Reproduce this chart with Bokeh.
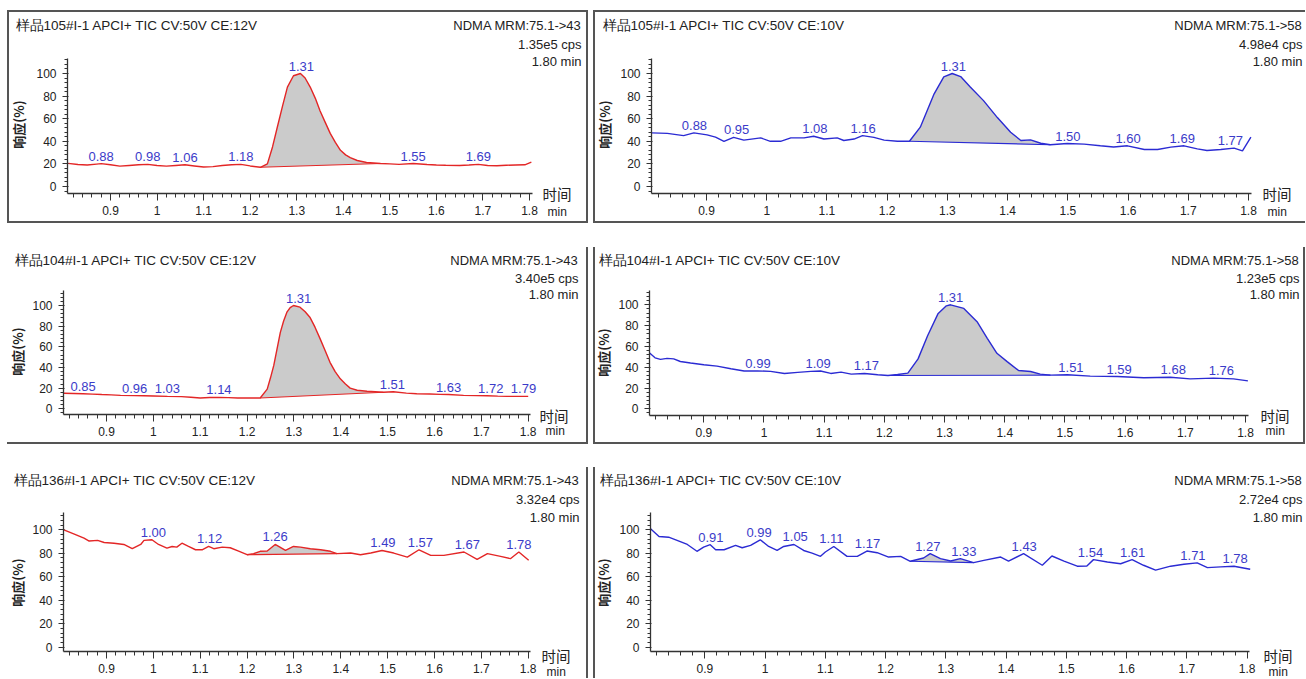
import numpy as np
from bokeh.plotting import figure
from bokeh.layouts import row, column
from bokeh.models import (Label, LabelSet, ColumnDataSource, SingleIntervalTicker,
                          PrintfTickFormatter, Range1d, Spacer)
from bokeh.core.properties import value
from bokeh.embed import file_html
from bokeh.resources import INLINE

FONT = "Liberation Sans"
CJK = "Noto Sans CJK SC"
RED = "#e32626"
BLUE = "#2b2bd3"
LABEL_BLUE = "#3b3bc9"
TEXT = "#222222"
FILL = "#cbcbcb"
EDGE = "#555555"

# ------------------------------------------------------------------ data
x_ticks_step = 0.1
y_ticks_step = 20

# panel A : 105, CE 12V, m/z 75.1->43
a_x = [0.809, 0.83, 0.85, 0.87, 0.88, 0.90, 0.92, 0.94, 0.96, 0.98, 1.00, 1.02, 1.04,
       1.06, 1.08, 1.10, 1.12, 1.14, 1.16, 1.18, 1.20, 1.222, 1.237, 1.248, 1.258,
       1.27, 1.28, 1.293, 1.308, 1.318, 1.329, 1.34, 1.35, 1.361, 1.372, 1.383, 1.394,
       1.405, 1.415, 1.43, 1.45, 1.48, 1.50, 1.52, 1.55, 1.58, 1.60, 1.62, 1.65, 1.67,
       1.69, 1.71, 1.73, 1.75, 1.77, 1.79, 1.804]
a_y = [20.5, 19.5, 19.0, 19.8, 20.2, 19.2, 18.0, 18.6, 19.2, 19.6, 18.6, 18.0, 18.6,
       19.2, 18.2, 17.2, 17.6, 18.6, 19.2, 19.6, 18.2, 17.0, 20.0, 35.0, 52.0,
       72.0, 88.0, 98.0, 100.0, 96.0, 88.0, 78.0, 67.0, 57.0, 47.0, 39.0, 32.0,
       28.0, 25.6, 23.0, 21.2, 20.3, 20.0, 19.6, 20.3, 19.5, 19.0, 18.8, 18.6, 19.0,
       19.6, 18.6, 18.4, 18.8, 19.0, 19.2, 21.5]
a_peak = [1.222, 1.48]
a_lab_x = [0.88, 0.98, 1.06, 1.18, 1.31, 1.55, 1.69]
a_lab_y = [20.2, 19.6, 19.2, 19.6, 100.0, 20.3, 19.6]

# panel B : 105, CE 10V, m/z 75.1->58
b_x = [0.809, 0.835, 0.862, 0.879, 0.901, 0.915, 0.929, 0.945, 0.962, 0.99, 1.006,
       1.023, 1.04, 1.062, 1.078, 1.095, 1.117, 1.128, 1.145, 1.159, 1.178, 1.195,
       1.217, 1.237, 1.255, 1.267, 1.278, 1.294, 1.308, 1.322, 1.338, 1.36, 1.383,
       1.405, 1.422, 1.438, 1.455, 1.471, 1.499, 1.527, 1.554, 1.576, 1.599, 1.627,
       1.649, 1.671, 1.693, 1.715, 1.731, 1.754, 1.776, 1.79, 1.804]
b_y = [47.5, 47.0, 45.0, 47.5, 45.7, 43.7, 40.0, 43.5, 41.0, 43.0, 40.0,
       40.0, 43.0, 43.0, 44.5, 42.0, 43.0, 40.7, 42.0, 45.0, 43.5, 41.0,
       40.0, 40.0, 52.5, 68.0, 82.0, 97.0, 100.0, 97.3, 88.0, 76.0, 61.0,
       48.0, 40.7, 41.3, 38.3, 37.0, 38.0, 37.5, 36.0, 35.0, 36.0, 32.7,
       32.7, 34.8, 36.0, 33.3, 31.9, 32.7, 34.0, 31.5, 43.6]
b_peak = [1.237, 1.471]
b_lab_x = [0.88, 0.95, 1.08, 1.16, 1.31, 1.50, 1.60, 1.69, 1.77]
b_lab_y = [47.5, 43.5, 44.5, 45.0, 100.0, 38.0, 36.0, 36.0, 34.0]

# panel C : 104, CE 12V, m/z 75.1->43
c_x = [0.809, 0.83, 0.85, 0.87, 0.89, 0.91, 0.93, 0.96, 0.98, 1.00, 1.03, 1.06, 1.08,
       1.10, 1.12, 1.14, 1.16, 1.18, 1.20, 1.228, 1.243, 1.25, 1.257, 1.264, 1.271,
       1.278, 1.285, 1.292, 1.299, 1.313, 1.324, 1.334, 1.345, 1.356, 1.367, 1.377,
       1.388, 1.399, 1.41, 1.42, 1.435, 1.456, 1.491, 1.512, 1.54, 1.562, 1.59, 1.612,
       1.63, 1.662, 1.69, 1.712, 1.735, 1.755, 1.78, 1.80]
c_y = [15.0, 14.8, 14.5, 14.2, 13.8, 13.5, 13.0, 12.8, 12.6, 12.4, 12.0, 11.8, 11.2,
       10.5, 11.0, 11.0, 10.8, 10.5, 10.5, 10.5, 19.0, 30.0, 42.0, 58.0, 74.0,
       85.0, 93.5, 98.0, 100.0, 98.4, 94.0, 88.7, 79.0, 67.7, 56.0, 45.0,
       36.0, 29.0, 24.0, 20.0, 18.0, 17.0, 16.0, 16.5, 15.2, 14.5, 14.3, 14.0,
       13.8, 13.0, 12.8, 12.7, 12.3, 12.0, 12.0, 12.0]
c_peak = [1.228, 1.491]
c_lab_x = [0.85, 0.96, 1.03, 1.14, 1.31, 1.51, 1.63, 1.72, 1.79]
c_lab_y = [14.5, 12.8, 12.0, 11.0, 100.0, 16.5, 13.8, 12.7, 12.0]

# panel D : 104, CE 10V, m/z 75.1->58
d_x = [0.81, 0.819, 0.828, 0.839, 0.85, 0.861, 0.878, 0.90, 0.922, 0.945, 0.967,
       0.989, 1.011, 1.034, 1.056, 1.078, 1.094, 1.111, 1.128, 1.145, 1.167, 1.189,
       1.206, 1.222, 1.239, 1.256, 1.272, 1.289, 1.303, 1.31, 1.332, 1.354, 1.371,
       1.387, 1.404, 1.423, 1.443, 1.459, 1.476, 1.504, 1.542, 1.587, 1.631, 1.675,
       1.708, 1.747, 1.78, 1.804]
d_y = [53.6, 49.0, 47.5, 48.5, 48.0, 45.5, 44.0, 42.3, 41.0, 38.5, 36.3,
       36.5, 36.0, 34.0, 35.0, 36.0, 36.3, 34.0, 35.3, 33.3, 34.0, 32.7,
       32.0, 33.0, 34.3, 48.0, 70.5, 91.3, 99.0, 100.0, 96.5, 83.8, 67.8,
       53.4, 45.4, 36.8, 35.9, 33.3, 32.4, 32.7, 31.4, 31.0, 29.8, 30.4,
       28.8, 29.5, 28.8, 26.9]
d_peak = [1.206, 1.476]
d_lab_x = [0.99, 1.09, 1.17, 1.31, 1.51, 1.59, 1.68, 1.76]
d_lab_y = [36.5, 36.3, 34.0, 100.0, 32.7, 31.0, 30.4, 29.5]

# panel E : 136, CE 12V, m/z 75.1->43
e_x = [0.809, 0.83, 0.852, 0.863, 0.881, 0.895, 0.916, 0.937, 0.955, 0.973, 0.98,
       0.997, 1.011, 1.029, 1.04, 1.05, 1.061, 1.075, 1.09, 1.104, 1.118, 1.129,
       1.147, 1.164, 1.182, 1.20, 1.214, 1.228, 1.243, 1.26, 1.282, 1.299, 1.314,
       1.335, 1.357, 1.378, 1.392, 1.421, 1.442, 1.464, 1.488, 1.513, 1.542, 1.567,
       1.592, 1.62, 1.663, 1.691, 1.713, 1.741, 1.762, 1.78, 1.801]
e_y = [100.0, 96.6, 92.9, 90.4, 91.0, 89.2, 88.6, 87.5, 83.9, 87.5, 91.0,
       91.5, 87.5, 84.4, 85.8, 85.2, 88.6, 85.8, 83.0, 83.0, 85.8, 83.9,
       85.2, 84.7, 81.9, 78.8, 79.7, 81.7, 81.9, 87.5, 82.4, 85.8, 85.2,
       83.9, 83.0, 81.7, 79.7, 80.2, 78.8, 80.2, 82.4, 80.2, 76.7, 83.0,
       78.2, 78.2, 81.1, 74.8, 79.7, 77.4, 75.4, 81.1, 74.0]
e_peak = [1.20, 1.392]
e_lab_x = [1.00, 1.12, 1.26, 1.49, 1.57, 1.67, 1.78]
e_lab_y = [91.5, 85.8, 87.5, 82.4, 83.0, 81.1, 81.1]

# panel F : 136, CE 10V, m/z 75.1->58
f_x = [0.81, 0.824, 0.84, 0.854, 0.871, 0.887, 0.898, 0.909, 0.918, 0.932, 0.951,
       0.962, 0.976, 0.992, 1.006, 1.02, 1.031, 1.048, 1.064, 1.078, 1.092, 1.10,
       1.114, 1.136, 1.153, 1.169, 1.186, 1.205, 1.225, 1.241, 1.263, 1.274, 1.291,
       1.308, 1.324, 1.346, 1.363, 1.391, 1.404, 1.429, 1.46, 1.476, 1.496, 1.518,
       1.534, 1.545, 1.568, 1.59, 1.609, 1.628, 1.648, 1.673, 1.695, 1.717, 1.734,
       1.756, 1.778, 1.805]
f_y = [100.9, 94.3, 93.7, 91.0, 87.5, 81.7, 85.2, 87.3, 83.0, 83.0, 86.7,
       84.7, 86.7, 91.5, 85.8, 82.4, 85.8, 87.5, 82.4, 80.2, 77.4, 81.1,
       85.8, 77.4, 77.4, 81.9, 80.5, 76.8, 77.4, 73.2, 76.0, 79.7, 75.4,
       73.4, 75.4, 72.0, 74.0, 76.8, 73.4, 79.7, 69.8, 77.7, 73.4, 69.0,
       69.2, 74.6, 72.6, 71.1, 74.6, 69.8, 65.6, 69.0, 70.6, 71.8, 67.8,
       68.4, 69.0, 66.4]
f_peak = [1.241, 1.346]
f_lab_x = [0.91, 0.99, 1.05, 1.11, 1.17, 1.27, 1.33, 1.43, 1.54, 1.61, 1.71, 1.78]
f_lab_y = [87.3, 91.5, 87.5, 85.8, 81.9, 79.7, 75.4, 79.7, 74.6, 74.6, 71.8, 69.0]

titles = ["样品105#I-1 APCI+ TIC CV:50V CE:12V", "样品105#I-1 APCI+ TIC CV:50V CE:10V",
          "样品104#I-1 APCI+ TIC CV:50V CE:12V", "样品104#I-1 APCI+ TIC CV:50V CE:10V",
          "样品136#I-1 APCI+ TIC CV:50V CE:12V", "样品136#I-1 APCI+ TIC CV:50V CE:10V"]
transitions = ["NDMA MRM:75.1->43", "NDMA MRM:75.1->58"] * 3
intensities = ["1.35e5 cps", "4.98e4 cps", "3.40e5 cps", "1.23e5 cps", "3.32e4 cps", "2.72e4 cps"]
time_text = "1.80 min"
x_label = "时间"
x_unit = "min"
y_label = "响应(%)"

traces = [(a_x, a_y, a_peak, a_lab_x, a_lab_y), (b_x, b_y, b_peak, b_lab_x, b_lab_y),
          (c_x, c_y, c_peak, c_lab_x, c_lab_y), (d_x, d_y, d_peak, d_lab_x, d_lab_y),
          (e_x, e_y, e_peak, e_lab_x, e_lab_y), (f_x, f_y, f_peak, f_lab_x, f_lab_y)]

# ------------------------------------------------------------------ layout (page pixels)
COL_X = [(7, 588), (593, 1305)]
ROW_Y = [(10, 223), (247, 444), (467, 678)]
CAL = [
    dict(x09=110.0, x18=529.0, y100=73.0, y0=186.0, yax=67.0, xax=193.0, top=58.0),
    dict(x09=706.0, x18=1248.0, y100=73.0, y0=186.0, yax=651.0, xax=193.0, top=58.0),
    dict(x09=106.0, x18=527.7, y100=305.0, y0=408.3, yax=63.0, xax=414.0, top=290.0),
    dict(x09=703.3, x18=1245.0, y100=304.3, y0=408.3, yax=649.0, xax=415.0, top=290.0),
    dict(x09=106.0, x18=527.7, y100=529.3, y0=646.7, yax=63.0, xax=651.0, top=512.0),
    dict(x09=704.3, x18=1246.7, y100=529.3, y0=646.7, yax=650.0, xax=651.0, top=512.0),
]
TXT = [
    dict(tl=15, tcy=25, rr=581, rcy=[25, 43.5, 61], hl=542, hcy=193, ml=547, mcy=211, yl=(18, 124)),
    dict(tl=602, tcy=25, rr=1302, rcy=[25, 44, 61], hl=1262, hcy=193, ml=1267, mcy=211, yl=(604, 124)),
    dict(tl=14, tcy=260, rr=578, rcy=[260, 278, 294], hl=539, hcy=415, ml=545, mcy=430, yl=(17, 351)),
    dict(tl=598, tcy=260, rr=1299, rcy=[260, 278, 294], hl=1260, hcy=415, ml=1265, mcy=430, yl=(603, 352)),
    dict(tl=13, tcy=480, rr=579, rcy=[480, 499, 517], hl=541, hcy=655, ml=546, mcy=671, yl=(17, 582)),
    dict(tl=599, tcy=480, rr=1302, rcy=[480, 499, 517], hl=1263, hcy=655, ml=1268, mcy=671, yl=(603, 582)),
]

B = "2px"
SHADOWS = [
    [f"inset 0 {B} 0 {EDGE}", f"inset {B} 0 0 {EDGE}", f"inset 0 -{B} 0 {EDGE}", f"inset -{B} 0 0 {EDGE}"],
    [f"inset 0 {B} 0 {EDGE}", f"inset {B} 0 0 {EDGE}", f"inset 0 -{B} 0 {EDGE}"],
    [f"inset 0 -{B} 0 {EDGE}", f"inset -{B} 0 0 {EDGE}"],
    [f"inset {B} 0 0 {EDGE}", f"inset 0 -{B} 0 {EDGE}", f"inset -{B} 0 0 {EDGE}"],
    [f"inset -{B} 0 0 {EDGE}"],
    [f"inset {B} 0 0 {EDGE}"],
]


def make_panel(i):
    r, c = divmod(i, 2)
    xs, ys, peak, lab_x, lab_y = traces[i]
    color = RED if c == 0 else BLUE
    g = CAL[i]
    t = TXT[i]
    fx0, fx1 = COL_X[c]
    fy0, fy1 = ROW_Y[r]

    def xv(px):
        return 0.9 + (px - g["x09"]) * 0.9 / (g["x18"] - g["x09"])

    def yv(py):
        return (g["y0"] - py) * 100.0 / (g["y0"] - g["y100"])

    p = figure(width=fx1 - fx0, height=fy1 - fy0,
               x_range=Range1d(xv(fx0), xv(fx1)), y_range=Range1d(yv(fy1), yv(fy0)),
               output_backend="svg", toolbar_location=None,
               min_border=0, min_border_left=0, min_border_right=0,
               min_border_top=0, min_border_bottom=0,
               background_fill_color=None, border_fill_color=None,
               outline_line_color=None,
               styles={"box-shadow": ", ".join(SHADOWS[i])})
    p.xgrid.visible = False
    p.ygrid.visible = False

    x_lo = xv(g["yax"])
    x_hi = xv(g["x18"] + 2.5)
    y_lo = yv(g["xax"])
    y_hi = yv(g["top"])
    p.xaxis.fixed_location = y_lo
    p.xaxis.bounds = (x_lo, x_hi)
    p.yaxis.fixed_location = x_lo
    p.yaxis.bounds = (y_lo, y_hi)
    p.xaxis.ticker = SingleIntervalTicker(interval=x_ticks_step, num_minor_ticks=5)
    p.xaxis.formatter = PrintfTickFormatter(format="%.3g")
    p.yaxis.ticker = SingleIntervalTicker(interval=y_ticks_step, num_minor_ticks=5)
    for ax in (p.xaxis, p.yaxis):
        ax.axis_line_color = "#333333"
        ax.axis_line_width = 1.3
        ax.major_tick_line_color = "#333333"
        ax.minor_tick_line_color = "#333333"
        ax.major_label_text_font = FONT
        ax.major_label_text_font_size = "12px"
        ax.major_label_text_color = TEXT
    p.xaxis.major_tick_out = 7
    p.xaxis.major_tick_in = 0
    p.xaxis.minor_tick_out = 4
    p.xaxis.minor_tick_in = 0
    p.xaxis.major_label_standoff = 5
    p.yaxis.major_tick_out = 5
    p.yaxis.major_tick_in = 1
    p.yaxis.minor_tick_out = 3
    p.yaxis.minor_tick_in = 0
    p.yaxis.major_label_standoff = 6

    xa = np.array(xs)
    ya = np.array(ys)
    m = (xa >= peak[0] - 1e-9) & (xa <= peak[1] + 1e-9)
    px = list(xa[m])
    py = list(ya[m])
    p.patch(px, py, fill_color=FILL, line_color=None)
    p.line([px[0], px[-1]], [py[0], py[-1]], line_color=color, line_width=1.1)
    p.line(xs, ys, line_color=color, line_width=1.4)

    src = ColumnDataSource(dict(x=lab_x, y=lab_y, t=[f"{v:.2f}" for v in lab_x]))
    p.add_layout(LabelSet(x="x", y="y", text="t", source=src, text_align="center",
                          text_baseline="bottom", y_offset=3,
                          text_font=value(FONT), text_font_size="13px",
                          text_color=LABEL_BLUE))

    def add_text(pxx, pyy, text, size, align="left", font=FONT, angle=0.0,
                 style="normal", color=TEXT):
        p.add_layout(Label(x=xv(pxx), y=yv(pyy), text=text, text_font=font,
                           text_font_size=size, text_align=align,
                           text_baseline="middle", text_color=color, angle=angle,
                           text_font_style=style))

    add_text(t["tl"], t["tcy"], titles[i], "13.5px")
    for txt, cy in zip([transitions[i], intensities[i], time_text], t["rcy"]):
        add_text(t["rr"], cy, txt, "13px", align="right")
    add_text(t["hl"], t["hcy"], x_label, "14.5px", font=CJK)
    add_text(t["ml"], t["mcy"], x_unit, "12px")
    add_text(t["yl"][0], t["yl"][1], y_label, "13px", align="center", font=CJK,
             angle=np.pi / 2, style="bold")
    return p


figs = [make_panel(i) for i in range(6)]


def grid_row(left, right):
    return row(Spacer(width=COL_X[0][0]), left,
               Spacer(width=COL_X[1][0] - COL_X[0][1]), right)


layout = column(Spacer(height=ROW_Y[0][0]),
                grid_row(figs[0], figs[1]),
                Spacer(height=ROW_Y[1][0] - ROW_Y[0][1]),
                grid_row(figs[2], figs[3]),
                Spacer(height=ROW_Y[2][0] - ROW_Y[1][1]),
                grid_row(figs[4], figs[5]))

open("out.html", "w", encoding="utf-8").write(file_html(layout, INLINE))
